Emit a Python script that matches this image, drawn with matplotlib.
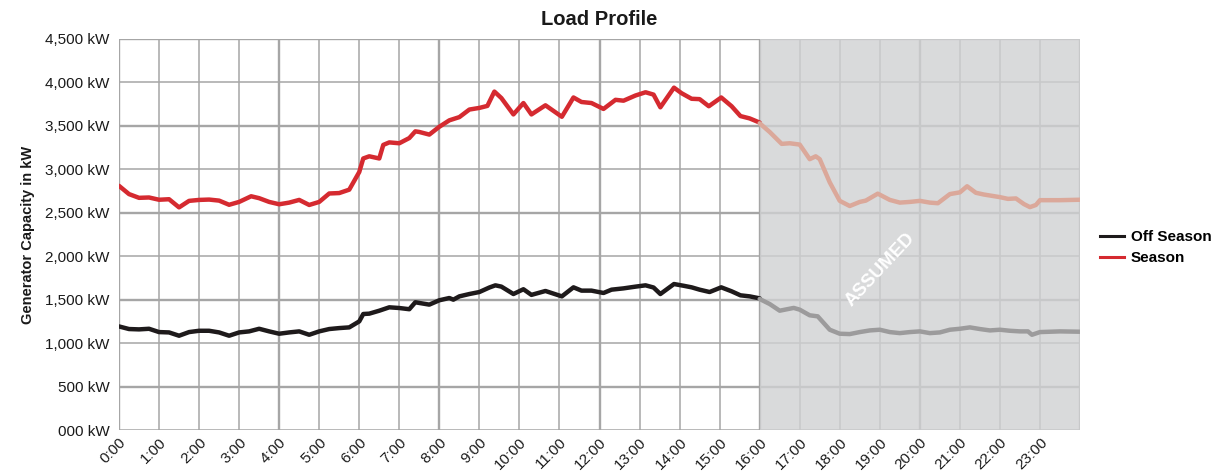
import matplotlib
matplotlib.use("Agg")
import matplotlib.pyplot as plt
from matplotlib.lines import Line2D
import numpy as np

plt.rcParams['font.family'] = ['Liberation Sans', 'DejaVu Sans']

# ---------------- data ----------------
hour_labels = [f"{h}:00" for h in range(24)]
y_ticks = [0, 500, 1000, 1500, 2000, 2500, 3000, 3500, 4000, 4500]
y_tick_labels = ["000 kW", "500 kW", "1,000 kW", "1,500 kW", "2,000 kW",
                 "2,500 kW", "3,000 kW", "3,500 kW", "4,000 kW", "4,500 kW"]

season_hours = [0.0, 0.25, 0.5, 0.75, 1.0, 1.25, 1.5, 1.75, 2.0, 2.25, 2.5, 2.75,
                3.0, 3.3, 3.5, 3.75, 4.0, 4.25, 4.5, 4.75, 5.0, 5.25, 5.5, 5.75,
                6.0, 6.1, 6.25, 6.5, 6.6, 6.75, 7.0, 7.25, 7.4, 7.5, 7.75,
                8.0, 8.25, 8.5, 8.75, 9.0, 9.2, 9.375, 9.55, 9.85, 10.1, 10.3,
                10.65, 11.06, 11.35, 11.55, 11.8, 12.1, 12.4, 12.6, 12.9, 13.15,
                13.35, 13.52, 13.86, 14.05, 14.3, 14.5, 14.73, 15.04, 15.3,
                15.52, 15.75, 16.0]
season_kw = [2810, 2715, 2672, 2676, 2650, 2656, 2562, 2637, 2648, 2652, 2640, 2592,
             2625, 2690, 2668, 2625, 2598, 2617, 2648, 2590, 2625, 2722, 2727, 2766,
             2969, 3125, 3150, 3125, 3281, 3310, 3300, 3360, 3437, 3430, 3400,
             3490, 3564, 3601, 3688, 3707, 3730, 3895, 3820, 3632, 3763, 3632,
             3737, 3605, 3827, 3775, 3763, 3695, 3800, 3790, 3850, 3887,
             3860, 3714, 3940, 3876, 3812, 3808, 3726, 3827, 3726,
             3613, 3586, 3538]

season_assumed_hours = [16.0, 16.25, 16.55, 16.75, 17.0, 17.25, 17.4, 17.5, 17.75,
                        18.0, 18.25, 18.5, 18.65, 18.95, 19.25, 19.5, 19.75, 20.0,
                        20.25, 20.45, 20.75, 21.0, 21.18, 21.4, 21.6, 22.0, 22.2,
                        22.4, 22.6, 22.75, 22.9, 23.0, 23.5, 24.0]
season_assumed_kw = [3530, 3430, 3293, 3300, 3285, 3117, 3150, 3117, 2850,
                     2637, 2578, 2625, 2640, 2720, 2648, 2617, 2625, 2637,
                     2617, 2610, 2715, 2735, 2805, 2730, 2710, 2680, 2660,
                     2665, 2600, 2565, 2590, 2645, 2645, 2650]

off_hours = [0.0, 0.25, 0.5, 0.75, 1.0, 1.25, 1.5, 1.75, 2.0, 2.25, 2.5, 2.75,
             3.0, 3.25, 3.5, 3.75, 4.0, 4.25, 4.5, 4.75, 5.0, 5.25, 5.5, 5.75,
             6.0, 6.1, 6.25, 6.5, 6.75, 7.0, 7.25, 7.4, 7.5, 7.75,
             8.0, 8.25, 8.35, 8.5, 8.75, 9.0, 9.25, 9.4, 9.55, 9.85, 10.1, 10.3,
             10.65, 11.06, 11.35, 11.55, 11.8, 12.1, 12.3, 12.6, 12.9, 13.15,
             13.35, 13.52, 13.86, 14.1, 14.3, 14.5, 14.75, 15.04, 15.3,
             15.52, 15.75, 16.0]
off_kw = [1192, 1162, 1158, 1165, 1127, 1123, 1085, 1127, 1142, 1142, 1123, 1085,
          1123, 1135, 1165, 1135, 1108, 1123, 1135, 1096, 1135, 1162, 1173, 1181,
          1250, 1335, 1339, 1373, 1412, 1404, 1390, 1470, 1462, 1443,
          1493, 1519, 1500, 1538, 1565, 1588, 1640, 1665, 1650, 1565, 1620, 1555,
          1600, 1538, 1642, 1604, 1604, 1577, 1615, 1630, 1650, 1665,
          1640, 1565, 1680, 1660, 1642, 1615, 1588, 1642, 1596,
          1550, 1538, 1515]

off_assumed_hours = [16.0, 16.25, 16.5, 16.85, 17.0, 17.25, 17.45, 17.75, 18.0,
                     18.25, 18.5, 18.75, 19.0, 19.25, 19.5, 19.75, 20.0, 20.25,
                     20.5, 20.75, 21.0, 21.25, 21.5, 21.75, 22.0, 22.25, 22.5,
                     22.7, 22.8, 23.0, 23.5, 24.0]
off_assumed_kw = [1508, 1450, 1373, 1405, 1385, 1320, 1308, 1154, 1108,
                  1104, 1127, 1146, 1154, 1127, 1115, 1127, 1135, 1115,
                  1123, 1154, 1165, 1181, 1162, 1146, 1154, 1142, 1135,
                  1135, 1096, 1127, 1135, 1131]

assumed_start = 16
assumed_end = 24

# ---------------- figure ----------------
W, H = 1222, 472
fig = plt.figure(figsize=(W / 100, H / 100), dpi=100)
ax = fig.add_axes([119 / W, 1 - 430 / H, (1080 - 119) / W, (430 - 39) / H])

ax.set_xlim(0, 24)
ax.set_ylim(0, 4500)
for s in ax.spines.values():
    s.set_visible(False)

grid_c = '#a6a6a6'
for h in range(25):
    ax.axvline(h, color=grid_c, lw=1.7 if h % 4 == 0 else 1.1, zorder=1)
for v in y_ticks:
    ax.axhline(v, color=grid_c, lw=1.7 if v % 1000 == 500 else 1.1, zorder=1)

ax.axvspan(assumed_start, assumed_end, color='#d0d1d3', alpha=0.8, lw=0, zorder=2)

lw = 3.2
kw = dict(lw=lw, solid_joinstyle='round', solid_capstyle='round', zorder=4)
ax.plot(off_hours, off_kw, color='#1e1a1b', **kw)
ax.plot(season_hours, season_kw, color='#d52a30', **kw)
ax.plot(off_assumed_hours, off_assumed_kw, color='#9c9b9c', **kw)
ax.plot(season_assumed_hours, season_assumed_kw, color='#dba89a', **kw)

ax.text(19.0, 1840, 'ASSUMED', color='white', fontsize=13.5, fontweight='bold',
        rotation=47, ha='center', va='center', zorder=3)

ax.set_yticks(y_ticks)
ax.set_yticklabels(y_tick_labels)
ax.set_xticks(range(24))
ax.set_xticklabels(hour_labels, rotation=45, ha='right', va='top',
                   rotation_mode='anchor')
ax.tick_params(axis='both', length=0, labelsize=11, colors='#1a1a1a')
ax.tick_params(axis='y', pad=7)
ax.tick_params(axis='x', pad=4)

ax.set_title('Load Profile', fontsize=14.5, fontweight='bold', pad=10, color='#1a1a1a')
ax.set_ylabel('Generator Capacity in kW', fontsize=10.5, fontweight='bold',
              color='#1a1a1a', labelpad=7)

handles = [Line2D([], [], color='#1e1a1b', lw=2.2),
           Line2D([], [], color='#d52a30', lw=2.2)]
fig.legend(handles, ['Off Season', 'Season'], loc='upper left',
           bbox_to_anchor=(1100 / W, 1 - 230 / H), frameon=False,
           prop={'weight': 'bold', 'size': 11}, handlelength=1.6,
           handletextpad=0.4, labelspacing=0.45, borderaxespad=0, borderpad=0)

fig.savefig('out.png', dpi=100)
